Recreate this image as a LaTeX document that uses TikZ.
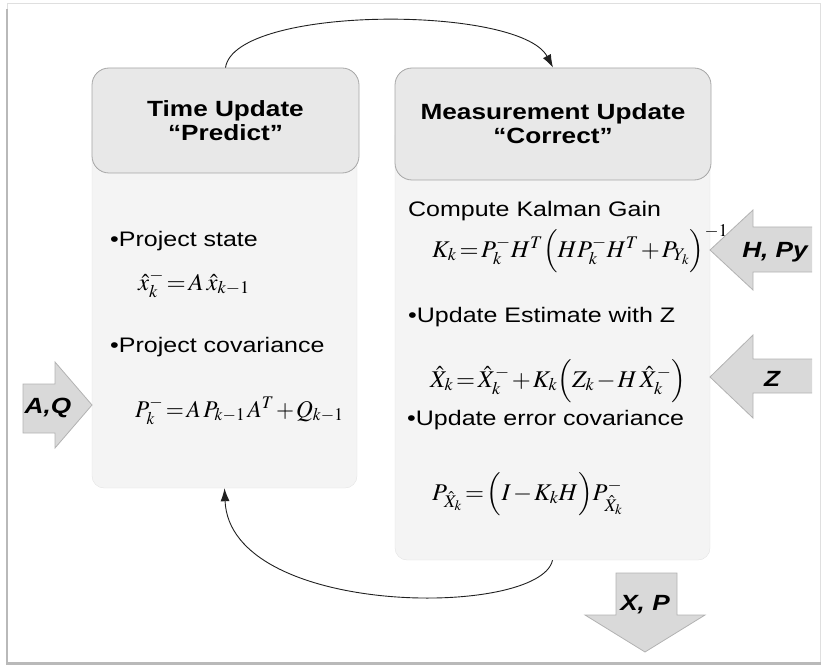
\documentclass[tikz,border=0pt]{standalone}
\usepackage{mathptmx}
\usepackage[no-math]{fontspec}
\setmainfont{Liberation Sans}[FakeStretch=1.19]
\usepackage{graphicx}
\usetikzlibrary{arrows.meta}
\newcommand\mth[2][1.08]{{\fontsize{24}{28}\selectfont\thickmuskip=2mu\medmuskip=1.5mu\scalebox{#1}[1]{$#2$}}}
\tikzset{
  hdr/.style={draw=gray!70, fill=gray!18, rounded corners=17pt, line width=0.8pt, inner sep=0pt, align=center, font=\bfseries\fontsize{22}{24}\selectfont},
  bodybox/.style={fill=gray!9, draw=gray!22, rounded corners=12pt, inner sep=0pt},
  txt/.style={anchor=base west, inner sep=0pt, font=\fontsize{21}{25}\selectfont},
  fml/.style={anchor=base west, inner sep=0pt},
  blk/.style={fill=gray!30, draw=gray!60, line width=0.8pt, line join=miter},
  blkfill/.style={fill=gray!30},
  blkline/.style={draw=gray!60, line width=0.8pt},
  blab/.style={font=\bfseries\itshape\fontsize{22}{26}\selectfont, inner sep=0pt},
  conn/.style={draw=gray!25!black, line width=0.9pt, -{Latex[length=13pt,width=9pt]}}
}
\begin{document}
\begin{tikzpicture}[x=1pt,y=-1pt]
\useasboundingbox (0,0) rectangle (821,668);
% frame
\draw[gray!25, line width=1pt] (7,4) rectangle (820,663);
\draw[gray!55, line width=2.5pt] (7,9) -- (7,663.5) -- (821,663.5);
% bodies
\node[bodybox, minimum width=265pt, minimum height=368pt] (bodyL) at (224.5,304) {};
\node[bodybox, minimum width=315pt, minimum height=436pt] (bodyR) at (552.5,342) {};
% headers
\node[hdr, minimum width=267pt, minimum height=105pt] (hdrL) at (225.5,120.5) {Time Update\\“Predict”};
\node[hdr, minimum width=316pt, minimum height=112pt] (hdrR) at (553,124) {Measurement Update\\“Correct”};
% left texts
\node[txt] (t1) at (110,247) {•Project state};
\node[fml] (f1) at (138,290) {\mth[1.03]{\hat{x}^{-}_{k}=A\,\hat{x}_{k-1}}};
\node[txt] (t2) at (110,352) {•Project covariance};
\node[fml] (f2) at (135,417) {\mth[0.97]{P^{-}_{k}=A\,P_{k-1}\,A^{T}+Q_{k-1}}};
% right texts
\node[txt] (t3) at (408,217) {Compute Kalman Gain};
\node[fml] (f3) at (432,257) {\mth[1.02]{K_{k}=P^{-}_{k}H^{T}\Bigl(HP^{-}_{k}H^{T}+P_{Y_{k}}\Bigr)^{-1}}};
\node[txt] (t4) at (408,322) {•Update Estimate with Z};
\node[fml] (f4) at (430,387) {\mth[1.02]{\hat{X}_{k}=\hat{X}^{-}_{k}+K_{k}\Bigl(Z_{k}-H\,\hat{X}^{-}_{k}\Bigr)}};
\node[txt] (t5) at (407,425) {•Update error covariance};
\node[fml] (f5) at (432,500) {\mth[1.02]{P_{\hat{X}_{k}}=\Bigl(I-K_{k}H\Bigr)P^{-}_{\hat{X}_{k}}}};
% block arrows
\draw[blk] (23,384) -- (55,384) -- (55,362) -- (92,405) -- (55,448) -- (55,433) -- (23,433) -- cycle;
\node[blab] (aq) at (48,408) {A,Q};
\fill[blkfill] (812,227) -- (753,227) -- (753,210) -- (710,250) -- (753,290) -- (753,272) -- (812,272) -- cycle;
\draw[blkline] (812,227) -- (753,227) -- (753,210) -- (710,250) -- (753,290) -- (753,272) -- (812,272);
\node[blab] (hpy) at (775,252) {H, Py};
\fill[blkfill] (812,359) -- (753,359) -- (753,335) -- (710,377) -- (753,418) -- (753,393) -- (812,393) -- cycle;
\draw[blkline] (812,359) -- (753,359) -- (753,335) -- (710,377) -- (753,418) -- (753,393) -- (812,393);
\node[blab] (z) at (772,379) {Z};
\draw[blk] (616,573) -- (677,573) -- (677,615) -- (705,615) -- (645,652) -- (585,615) -- (616,615) -- cycle;
\node[blab] (xp) at (645,605) {X, P};
% connectors
\draw[conn] (hdrL.north) .. controls (235,5) and (520,5) .. (hdrR.north);
\draw[conn] (bodyR.south) .. controls (540,618) and (230,618) .. (bodyL.south);
\end{tikzpicture}
\end{document}
